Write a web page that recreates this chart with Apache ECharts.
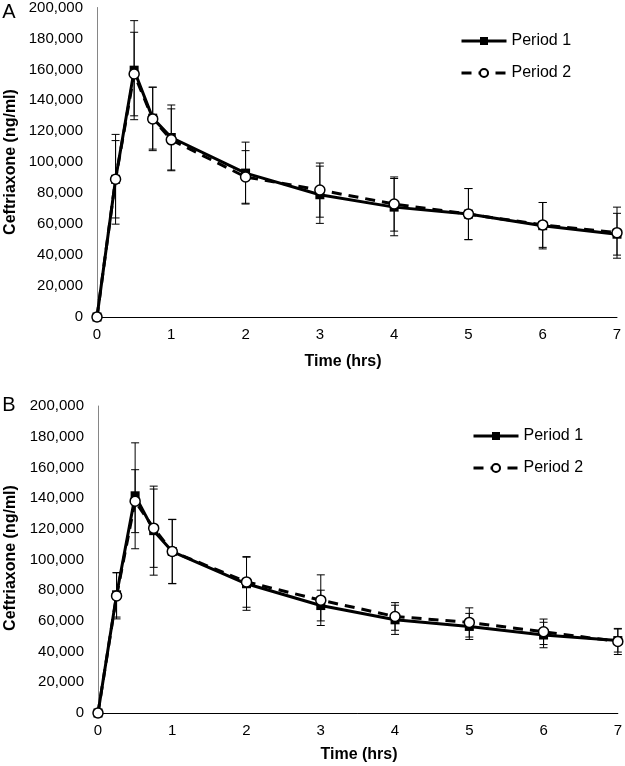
<!DOCTYPE html>
<html>
<head>
<meta charset="utf-8">
<style>
  html, body { margin: 0; padding: 0; background: #fff; }
  #chart { width: 625px; height: 766px; }
</style>
<script src="https://cdn.jsdelivr.net/npm/echarts@6/dist/echarts.min.js"></script>
</head>
<body>
<div id="chart"></div>
<script>
// sampling times (hrs)
const times = [0, 0.25, 0.5, 0.75, 1, 2, 3, 4, 5, 6, 7];
const yTicks = [0, 20000, 40000, 60000, 80000, 100000, 120000, 140000, 160000, 180000, 200000];

// panel A - mean and SD (ng/ml)
const aP1Mean = [0, 89000, 159500, 128500, 116000, 93000, 79000, 71000, 66500, 59000, 53500];
const aP1Sd = [0, 29000, 32000, 20000, 21000, 20000, 18500, 18500, 16500, 15000, 13500];
const aP2Mean = [0, 89000, 157000, 128000, 114500, 90500, 82000, 73000, 66500, 59500, 54500];
const aP2Sd = [0, 25000, 27000, 20500, 20000, 17000, 17500, 17500, 16500, 14500, 16500];

// panel B
const bP1Mean = [0, 77000, 141500, 118800, 105200, 84200, 70000, 60700, 56400, 50800, 47200];
const bP1Sd = [0, 14500, 34500, 29000, 20800, 17300, 10000, 9500, 8500, 8300, 7500];
const bP2Mean = [0, 76300, 138000, 120400, 105200, 85400, 73500, 62900, 59000, 52900, 46600];
const bP2Sd = [0, 15000, 20500, 25500, 21000, 16500, 16500, 9000, 9500, 8300, 8500];

const FONT = 'Liberation Sans, Arial, sans-serif';

const pairs = (ys) => times.map((t, i) => [t, ys[i]]);
const bars = (ys, sd) => times
    .map((t, i) => [t, ys[i] - sd[i], ys[i] + sd[i]])
    .filter((d, i) => sd[i] > 0);

// vertical error bar with caps
const renderErr = (params, api) => {
    const x = api.value(0);
    const lo = api.coord([x, api.value(1)]);
    const hi = api.coord([x, api.value(2)]);
    const w = 4;
    const style = { stroke: '#000', lineWidth: 1 };
    return {
        type: 'group',
        children: [
            { type: 'line', shape: { x1: lo[0], y1: lo[1], x2: hi[0], y2: hi[1] }, style },
            { type: 'line', shape: { x1: hi[0] - w, y1: hi[1], x2: hi[0] + w, y2: hi[1] }, style },
            { type: 'line', shape: { x1: lo[0] - w, y1: lo[1], x2: lo[0] + w, y2: lo[1] }, style },
        ],
    };
};

const xAx = (idx) => ({
    type: 'value',
    gridIndex: idx,
    min: 0,
    max: 7,
    interval: 1,
    axisLine: { lineStyle: { color: '#000', width: 1 } },
    axisTick: { show: false },
    splitLine: { show: false },
    axisLabel: { color: '#000', fontSize: 15, fontFamily: FONT, margin: 10 },
});

const yAx = (idx) => ({
    type: 'value',
    gridIndex: idx,
    min: yTicks[0],
    max: yTicks[yTicks.length - 1],
    interval: yTicks[1] - yTicks[0],
    axisLine: { show: true, lineStyle: { color: '#868686', width: 1 } },
    axisTick: { show: false },
    splitLine: { show: false },
    axisLabel: {
        color: '#000',
        fontSize: 15,
        fontFamily: FONT,
        margin: 14,
        formatter: (v) => v.toLocaleString('en-US'),
    },
});

const p1 = (idx, data) => ({
    name: 'Period 1',
    type: 'line',
    xAxisIndex: idx,
    yAxisIndex: idx,
    data,
    symbol: 'rect',
    symbolSize: 9,
    itemStyle: { color: '#000' },
    lineStyle: { color: '#000', width: 3 },
    z: 3,
});

const p2 = (idx, data) => ({
    name: 'Period 2',
    type: 'line',
    xAxisIndex: idx,
    yAxisIndex: idx,
    data,
    symbol: 'circle',
    symbolSize: 10,
    itemStyle: { color: '#fff', borderColor: '#000', borderWidth: 1.5 },
    lineStyle: { color: '#000', width: 3, type: [10, 7] },
    z: 4,
});

const errs = (idx, data) => ({
    type: 'custom',
    xAxisIndex: idx,
    yAxisIndex: idx,
    data,
    renderItem: renderErr,
    silent: true,
    z: 2,
});

const legendBase = {
    orient: 'vertical',
    itemWidth: 45,
    itemHeight: 10,
    itemGap: 16,
    lineStyle: { width: 3 },
    textStyle: { color: '#000', fontSize: 16, fontFamily: FONT },
    data: ['Period 1', 'Period 2'],
};

const txt = (x, y, s, size, weight, rot) => ({
    type: 'text',
    x,
    y,
    rotation: rot || 0,
    style: {
        text: s,
        fill: '#000',
        font: `${weight} ${size}px ${FONT}`,
        align: 'center',
        verticalAlign: 'middle',
    },
});

const chart = echarts.init(document.getElementById('chart'), null, { renderer: 'canvas' });

chart.setOption({
    animation: false,
    backgroundColor: '#fff',
    grid: [
        { left: 97, top: 7, width: 520, height: 310 },
        { left: 98, top: 406, width: 522, height: 307 },
    ],
    xAxis: [xAx(0), xAx(1)],
    yAxis: [yAx(0), yAx(1)],
    legend: [
        { ...legendBase, left: 455, top: 28 },
        { ...legendBase, left: 467, top: 423 },
    ],
    graphic: [
        txt(9, 12, 'A', 20, 'normal'),
        txt(9, 405, 'B', 20, 'normal'),
        txt(11, 162, 'Ceftriaxone (ng/ml)', 16, 'bold', Math.PI / 2),
        txt(11, 558, 'Ceftriaxone (ng/ml)', 16, 'bold', Math.PI / 2),
        txt(343, 362, 'Time (hrs)', 16, 'bold'),
        txt(359, 755, 'Time (hrs)', 16, 'bold'),
    ],
    series: [
        errs(0, bars(aP1Mean, aP1Sd)),
        errs(0, bars(aP2Mean, aP2Sd)),
        p1(0, pairs(aP1Mean)),
        p2(0, pairs(aP2Mean)),
        errs(1, bars(bP1Mean, bP1Sd)),
        errs(1, bars(bP2Mean, bP2Sd)),
        p1(1, pairs(bP1Mean)),
        p2(1, pairs(bP2Mean)),
    ],
});
</script>
</body>
</html>
